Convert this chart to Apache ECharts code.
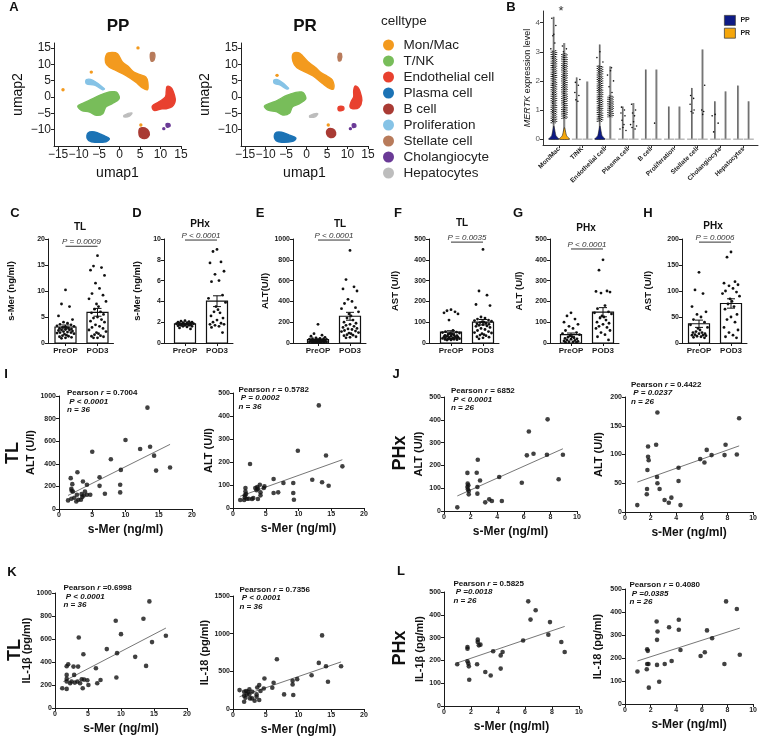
<!DOCTYPE html>
<html>
<head>
<meta charset="utf-8">
<title>s-Mer / MERTK panels</title>
<script src="https://cdn.jsdelivr.net/npm/echarts@6/dist/echarts.min.js"></script>
<style>
  html, body { margin: 0; padding: 0; background: #fff; }
  #main { width: 760px; height: 739px; }
</style>
</head>
<body>
<div id="main"></div>
<script>
const FONT = 'Arial, "Liberation Sans", Helvetica, sans-serif';

// ---------- A: umap ----------
const cellTypes = ['Mon/Mac', 'T/NK', 'Endothelial cell', 'Plasma cell', 'B cell', 'Proliferation', 'Stellate cell', 'Cholangiocyte', 'Hepatocytes'];
const cellColors = ['#f39a1e', '#78bd5a', '#e8412f', '#1c73b5', '#a93b34', '#86c3e6', '#b87b5b', '#6a3a96', '#bdbdbd'];

// cluster outlines in umap coords, one list per cell type (single point = stray cell)
const umapPP = [
  [[[-3.1, 13.2], [-1.8, 13.6], [-0.5, 13.2], [0.7, 10.7], [2.2, 9.2], [3.5, 7.6], [5.0, 6.8], [6.4, 6.1], [6.9, 4.5], [6.8, 2.2], [5.6, 2.8], [3.9, 4.6], [1.5, 6.6], [-0.9, 8.1], [-2.5, 9.1], [-3.4, 10.5]],
   [[4.5, 15]], [[-6.9, 7.6]], [[-13.8, 2.2]], [[5.2, -8.6]]],
  [[[-10.2, -2.8], [-9, -2.0], [-7.3, -1], [-4.9, 0.5], [-2.5, 1.5], [-1.2, 1.6], [-0.5, 1.2], [-0.1, -0.5], [-1.7, -2], [-3.3, -3], [-4.1, -5.1], [-5.7, -5.6], [-7.3, -4.6], [-9.3, -4.1]]],
  [[[11.6, 3.2], [12.4, 3.0], [13.0, 2.0], [13.6, -1], [12.8, -3], [11.2, -3.6], [10.4, -3.6], [8.4, -4.1], [8.0, -2.8], [9.6, -1.5], [11.2, 0], [11.4, 1.8]]],
  [[[-7.7, -11], [-6.1, -10.7], [-4.1, -11.7], [-2.5, -12.7], [-3.3, -13.7], [-6.9, -13.7], [-7.9, -12.7]]],
  [[[4.9, -9.7], [6.2, -9.5], [7.2, -10.7], [7.0, -12.2], [6.0, -12.7], [4.9, -12.0]]],
  [[[-8.1, 5.3], [-6.5, 5.1], [-3.7, 2.5], [-4.1, 2.2], [-6.1, 3.6], [-8.1, 4.1]]],
  [[[7.6, 13.4], [8.5, 13.4], [8.4, 11.2], [7.7, 11]]],
  [[[11.4, -8.2], [12.2, -8.2], [12.3, -9.0], [11.5, -9.2]], [[10.8, -9.7]]],
  [[[1.1, -5.6], [3.0, -4.9], [2.4, -5.9], [1.1, -6.1]]]
];
const umapPR = [
  [[[-3.3, 13.2], [-2.0, 13.5], [-1.0, 12.6], [0.6, 10.5], [2.2, 9.0], [3.6, 7.4], [5.0, 6.4], [6.3, 5.2], [6.6, 2.5], [5.6, 2.6], [3.8, 4.2], [1.6, 6.4], [-0.8, 7.9], [-2.4, 9.0], [-3.3, 10.8]],
   [[-7.2, 6.6]], [[5.3, -8.6]]],
  [[[-10.3, -2.8], [-9, -2.0], [-7.2, -1.1], [-5.0, 0.4], [-2.6, 1.4], [-1.2, 1.5], [-0.6, 1.0], [-0.2, -0.6], [-1.8, -2.1], [-3.4, -3], [-4.2, -5.0], [-5.8, -5.5], [-7.4, -4.5], [-9.4, -4.0]]],
  [[[11.8, 3.3], [12.5, 3.0], [13.0, 1.8], [13.5, -1], [12.8, -3.2], [11.3, -3.6], [10.6, -3.0], [10.9, -1.4], [11.5, 0], [11.5, 1.8]],
   [[7.8, -3.0], [9.0, -3.0], [9.0, -4.0], [7.8, -4.1]]],
  [[[-7.6, -11], [-6.1, -10.8], [-4.2, -11.7], [-2.6, -12.6], [-3.4, -13.6], [-6.8, -13.7], [-7.8, -12.6]]],
  [[[5.1, -10.0], [6.4, -9.8], [7.1, -10.9], [6.8, -12.1], [5.8, -12.4], [5.0, -11.6]]],
  [[[-7.9, 5.2], [-6.6, 5.0], [-4.4, 2.7], [-4.8, 2.4], [-6.4, 3.6], [-7.9, 4.2]]],
  [[[7.8, 13.2], [8.5, 13.2], [8.4, 11.2], [7.8, 11.1]]],
  [[[11.2, -8.3], [11.9, -8.3], [12.0, -9.1], [11.3, -9.3]], [[10.7, -9.7]]],
  [[[0.8, -5.7], [2.7, -5.1], [2.2, -6.0], [0.8, -6.2]]]
];

// ---------- B: MERTK violins ----------
const violinCats = ['Mon/Mac', 'T/NK', 'Endothelial cell', 'Plasma cell', 'B cell', 'Proliferation', 'Stellate cell', 'Cholangiocyte', 'Hepatocytes'];
const vioMaxPP = [4.2, 2.12, 3.25, 1.12, 2.39, 1.12, 1.76, 1.3, 1.84];
const vioMaxPR = [3.3, 1.98, 2.5, 1.24, 2.39, 1.12, 3.08, 1.64, 1.3];
const vioBulbPP = [0.45, 0, 0.45, 0, 0, 0, 0, 0, 0];
const vioBulbPR = [0.4, 0, 0, 0, 0, 0, 0, 0, 0];
// dense point clouds [low, high], 0 = none
const vioBandPP = [[0.55, 3.05], [0, 0], [0.6, 2.55], [0, 0], [0, 0], [0, 0], [0, 0], [0, 0], [0, 0]];
const vioBandPR = [[0.7, 2.95], [0, 0], [0.75, 1.5], [0, 0], [0, 0], [0, 0], [0, 0], [0, 0], [0, 0]];
// sparse cells [category, level]
const vioPtsPP = [[0, 4.15], [0, 3.9], [0, 3.55], [0, 3.3], [0, 3.6], [0, 3.1],
  [1, 2.05], [1, 1.95], [1, 1.85], [1, 1.6], [1, 1.5], [1, 1.35], [1, 1.3],
  [2, 3.0], [2, 2.8], [2, 2.65],
  [3, 1.1], [3, 1.0], [3, 0.9], [3, 0.8], [3, 0.65], [3, 0.5], [3, 0.4], [3, 0.35], [3, 0.3],
  [6, 1.5], [6, 1.4], [6, 1.2], [6, 1.0], [6, 0.95], [6, 0.9],
  [7, 0.85], [7, 0.8], [7, 0.55], [7, 0.25]];
const vioPtsPR = [[0, 3.2], [0, 3.1], [0, 3.0],
  [2, 2.45], [2, 2.35], [2, 2.2], [2, 2.0], [2, 1.8], [2, 1.6],
  [3, 1.2], [3, 1.0], [3, 0.9], [3, 0.8], [3, 0.6], [3, 0.5], [3, 0.45], [3, 0.4], [3, 0.35],
  [4, 0.55],
  [6, 1.85], [6, 1.0], [6, 0.95], [6, 0.85]];

// ---------- C-H: PreOP vs POD3 ----------
const groupLabels = ['PreOP', 'POD3'];
const cPre = [10.2, 7.5, 7.0, 5.2, 4.5, 4.0, 3.8, 3.6, 3.5, 3.3, 3.2, 3.1, 3.0, 3.0, 2.9, 2.8, 2.7, 2.6, 2.5, 2.5, 2.4, 2.3, 2.2, 2.1, 2.0, 2.0, 1.9, 1.8, 1.7, 1.5, 1.4, 1.3, 1.2, 1.1, 1.0, 0.9];
const cPost = [16.8, 14.8, 14.5, 14.0, 13.0, 11.5, 10.5, 9.5, 9.2, 8.5, 8.0, 7.5, 7.0, 6.5, 6.0, 5.8, 5.5, 5.0, 4.8, 4.5, 4.2, 4.0, 3.5, 3.2, 3.0, 2.8, 2.5, 2.2, 2.0, 1.8, 1.6, 1.4, 1.3, 1.2, 1.0, 1.0];
const cMean = [3.08, 5.9];
const cSem = [0.38, 0.75];
const dPre = [2.15, 2.1, 2.05, 2.0, 2.0, 1.95, 1.95, 1.9, 1.9, 1.85, 1.85, 1.85, 1.8, 1.8, 1.8, 1.75, 1.75, 1.7, 1.7, 1.7, 1.65, 1.6, 1.6, 1.55, 1.45, 1.35];
const dPost = [9.0, 8.8, 7.8, 7.7, 6.9, 6.6, 6.0, 5.9, 4.6, 4.3, 3.9, 3.5, 3.2, 3.0, 2.9, 2.6, 2.4, 2.2, 2.0, 1.9, 1.8, 1.8, 1.7, 1.6, 1.5, 1.0];
const dMean = [1.84, 4.02];
const dSem = [0.04, 0.52];
const ePre = [180, 90, 75, 65, 55, 50, 45, 42, 40, 38, 35, 32, 30, 28, 26, 25, 24, 22, 20, 19, 18, 17, 16, 15, 14, 13, 12, 11, 10, 10, 9, 8, 7, 6, 5, 4];
const ePost = [890, 610, 540, 520, 500, 420, 400, 380, 340, 330, 300, 280, 260, 240, 220, 200, 190, 180, 170, 160, 150, 140, 135, 130, 120, 115, 110, 100, 95, 90, 80, 75, 70, 60, 55, 50];
const eMean = [32, 257];
const eSem = [6, 38];
const fPre = [160, 155, 150, 145, 140, 110, 60, 55, 52, 50, 48, 45, 42, 40, 38, 36, 35, 33, 32, 30, 30, 28, 27, 25, 24, 23, 22, 21, 20, 20, 19, 18, 17, 16, 15, 14];
const fPost = [450, 250, 230, 185, 180, 125, 120, 115, 110, 108, 105, 102, 100, 98, 95, 92, 90, 88, 85, 82, 80, 75, 70, 65, 60, 55, 50, 48, 45, 40, 38, 35, 30, 28, 25, 20];
const fMean = [52, 100];
const fSem = [7, 13];
const gPre = [145, 130, 115, 100, 90, 80, 70, 60, 50, 45, 40, 35, 30, 28, 25, 22, 20, 18, 15, 12, 10, 8, 6, 5, 4, 3];
const gPost = [400, 350, 250, 248, 245, 240, 180, 165, 150, 145, 140, 130, 125, 120, 110, 100, 95, 90, 80, 75, 70, 60, 50, 40, 30, 15];
const gMean = [40, 148];
const gSem = [8, 22];
const hPre = [136, 102, 95, 70, 60, 55, 50, 45, 40, 35, 30, 28, 25, 22, 20, 20, 18, 18, 16, 15, 15, 14, 13, 12, 11, 10];
const hPost = [175, 165, 118, 115, 112, 110, 105, 100, 98, 95, 90, 85, 80, 75, 70, 65, 55, 50, 45, 40, 30, 25, 20, 15, 12, 10];
const hMean = [37, 76];
const hSem = [7, 9];

// ---------- I-L: correlations [s-Mer, value] ----------
const iLeftPts = [[1.36, 76], [1.76, 273], [1.86, 179], [1.9, 161], [2.0, 220], [2.1, 155], [1.86, 91], [2.77, 325], [2.7, 126], [2.6, 67], [2.9, 82], [3.3, 82], [3.6, 243], [3.9, 155], [3.5, 106], [4.2, 214], [4.2, 126], [4.7, 126], [5.0, 507], [6.1, 281], [6.1, 205], [6.9, 135], [7.8, 440], [9.2, 214], [9.2, 147], [9.3, 346], [10.0, 610], [12.2, 531], [13.3, 897], [13.7, 551], [14.3, 472], [14.6, 340], [16.7, 367], [3.7, 120], [3.4, 132], [2.3, 100]];
const iLeftFit = [[1.36, 120], [16.7, 572]];
const iRightPts = [[1.1, 35], [1.7, 35], [2.4, 40], [2.9, 39], [3.8, 39], [9.3, 36], [1.8, 55], [1.9, 72], [1.9, 87], [1.8, 46], [2.6, 191], [3.4, 87], [3.6, 77], [3.7, 91], [4.1, 101], [4.2, 68], [4.2, 55], [4.8, 94], [6.2, 126], [6.2, 65], [6.9, 68], [7.7, 109], [9.2, 109], [9.2, 65], [9.9, 249], [12.1, 123], [13.1, 446], [13.6, 112], [14.2, 228], [14.6, 97], [16.7, 181], [2.1, 40], [3.1, 43], [3.8, 84], [2.0, 61], [4.7, 87]];
const iRightFit = [[1.1, 51], [16.7, 210]];
const jLeftPts = [[1.0, 16], [1.76, 167], [1.76, 105], [1.83, 113], [1.8, 95], [1.86, 88], [1.86, 73], [2.46, 168], [2.54, 225], [2.51, 105], [2.51, 76], [2.71, 134], [3.1, 38], [3.4, 51], [3.6, 44], [4.15, 149], [4.35, 44], [5.85, 124], [6.23, 244], [6.38, 349], [6.73, 251], [7.74, 247], [7.79, 402], [8.62, 139], [8.94, 247], [1.78, 120]];
const jLeftFit = [[1.0, 66], [8.94, 273]];
const jRightPts = [[0.96, 12], [1.72, 40], [1.7, 31], [1.75, 73], [1.8, 96], [1.85, 90], [1.8, 114], [2.43, 117], [2.53, 173], [2.5, 61], [2.53, 50], [2.7, 40], [3.09, 21], [3.42, 16], [3.62, 25], [4.18, 77], [4.18, 54], [4.33, 12], [5.87, 92], [6.2, 86], [6.38, 108], [6.76, 99], [7.77, 99], [7.85, 117], [8.73, 100], [8.91, 163]];
const jRightFit = [[0.96, 52], [8.91, 115]];
const kLeftPts = [[1.1, 172], [1.77, 166], [1.77, 288], [1.77, 253], [1.77, 230], [1.77, 363], [2.0, 381], [2.5, 230], [2.8, 360], [2.9, 288], [3.0, 221], [3.5, 360], [3.6, 613], [4.05, 250], [4.2, 172], [4.3, 468], [4.4, 247], [4.9, 241], [5.06, 200], [6.2, 346], [6.4, 215], [6.9, 244], [7.85, 512], [9.2, 759], [9.3, 265], [9.4, 477], [10.0, 642], [12.15, 445], [13.4, 776], [13.8, 366], [14.3, 927], [14.7, 573], [16.8, 628], [2.3, 215], [3.4, 230], [3.8, 215]];
const kLeftFit = [[1.27, 230], [16.8, 695]];
const kRightPts = [[1.0, 251], [1.7, 229], [1.7, 176], [1.7, 97], [2.0, 238], [1.9, 150], [2.1, 194], [2.5, 260], [2.5, 194], [2.6, 141], [2.95, 229], [2.9, 141], [3.3, 110], [3.6, 163], [3.6, 194], [3.7, 286], [4.0, 317], [4.2, 238], [4.0, 119], [4.7, 273], [4.8, 405], [6.0, 282], [6.2, 348], [6.7, 660], [7.8, 194], [9.1, 326], [9.1, 374], [9.2, 185], [9.8, 396], [12.0, 449], [13.1, 612], [13.6, 977], [14.2, 568], [14.5, 361], [16.5, 568], [2.3, 229]];
const kRightFit = [[1.0, 163], [16.5, 625]];
const lLeftPts = [[0.98, 183], [1.74, 259], [1.74, 251], [1.74, 196], [1.8, 186], [1.84, 174], [1.87, 115], [2.5, 291], [2.5, 281], [2.58, 266], [2.7, 269], [2.45, 183], [3.06, 149], [3.46, 134], [3.64, 240], [4.2, 222], [4.2, 164], [4.34, 237], [5.86, 287], [6.24, 459], [6.41, 379], [6.79, 420], [7.73, 313], [7.85, 368], [8.69, 281], [8.94, 237]];
const lLeftFit = [[0.98, 189], [8.94, 349]];
const lRightPts = [[0.97, 141], [1.7, 151], [1.73, 238], [1.78, 231], [1.83, 174], [1.73, 174], [1.86, 71], [2.47, 359], [2.54, 315], [2.5, 279], [2.5, 170], [2.67, 97], [3.1, 174], [3.44, 334], [3.64, 187], [4.2, 366], [4.2, 323], [4.33, 235], [5.9, 209], [6.23, 225], [6.4, 320], [6.8, 286], [7.76, 174], [7.89, 446], [8.73, 413], [8.96, 214]];
const lRightFit = [[0.97, 187], [8.96, 330]];

// ------------------------------------------------------------
const grids = [], xAxes = [], yAxes = [], series = [], graphics = [];

function addGrid(box, xa, ya) {
  const gi = grids.length;
  grids.push({ left: box[0], top: box[1], width: box[2], height: box[3] });
  xAxes.push(Object.assign({ gridIndex: gi }, xa));
  yAxes.push(Object.assign({ gridIndex: gi }, ya));
  return gi;
}

function axis(o) {
  const a = {
    type: 'value', min: o.min, max: o.max,
    axisLine: { show: true, onZero: false, lineStyle: { color: o.lineColor || '#1a1a1a', width: 1 } },
    axisTick: { show: true, length: o.tick || 3, lineStyle: { color: o.lineColor || '#1a1a1a', width: 1 } },
    axisLabel: { fontSize: o.fs || 7, fontWeight: o.bold === false ? 'normal' : 'bold', color: o.labelColor || '#1a1a1a', margin: o.margin || 3, fontFamily: FONT,
      formatter: o.fmt || (v => String(v)) },
    splitLine: { show: false },
    name: o.name || '', nameLocation: 'middle', nameGap: o.gap || 15,
    nameTextStyle: { fontSize: o.nameFs || 11, fontWeight: o.nameBold === false ? 'normal' : 'bold', color: '#111', fontFamily: FONT }
  };
  if (o.interval) a.interval = o.interval;
  if (o.ticks) {
    a.axisTick.customValues = o.ticks;
    a.axisLabel.customValues = o.ticks;
  }
  if (o.rotate) a.axisLabel.rotate = o.rotate;
  if (o.rich) a.nameTextStyle.rich = o.rich;
  return a;
}

function text(x, y, str, style, rot) {
  graphics.push({
    type: 'text', x: x, y: y, rotation: rot || 0, silent: true,
    style: Object.assign({ text: str, fontFamily: FONT, fill: '#111', align: 'center', verticalAlign: 'middle' }, style)
  });
}

// ---------- A ----------
const minus = v => String(v).replace('-', '\u2212');
const umapBoxes = [[54, 43, 127, 103], [241, 43, 127, 103]];
[umapPP, umapPR].forEach((outlines, k) => {
  const gi = addGrid(umapBoxes[k],
    axis({ min: -16, max: 15, ticks: [-15, -10, -5, 0, 5, 10, 15], fmt: minus, fs: 12, bold: false, labelColor: '#222', lineColor: '#222', name: 'umap1', gap: 20, nameFs: 14, nameBold: false }),
    axis({ min: -15, max: 16.5, ticks: [-10, -5, 0, 5, 10, 15], fmt: minus, fs: 12, bold: false, labelColor: '#222', lineColor: '#222', name: 'umap2', gap: 29, nameFs: 14, nameBold: false }));
  cellTypes.forEach((name, ci) => {
    const polys = outlines[ci];
    const col = cellColors[ci];
    series.push({
      type: 'custom', name: name, xAxisIndex: gi, yAxisIndex: gi, silent: true,
      itemStyle: { color: col },
      encode: { x: 0, y: 1 },
      data: polys.map((p, pi) => [p[0][0], p[0][1], pi]),
      renderItem: (params, api) => {
        const p = polys[api.value(2)];
        if (p.length === 1) {
          const c = api.coord(p[0]);
          return { type: 'circle', shape: { cx: c[0], cy: c[1], r: 1.7 }, style: { fill: col } };
        }
        return {
          type: 'polygon',
          shape: { points: p.map(q => api.coord(q)), smooth: 0.35 },
          style: { fill: col, stroke: col, lineWidth: 1.4, lineJoin: 'round' }
        };
      }
    });
  });
});
text(118, 26, 'PP', { fontSize: 17, fontWeight: 'bold' });
text(305, 26, 'PR', { fontSize: 17, fontWeight: 'bold' });
text(381, 21, 'celltype', { fontSize: 13.5, align: 'left', fill: '#222' });

// ---------- B ----------
const gB = addGrid([543, 11, 215, 134],
  axis({ min: -0.7, max: 8.63, ticks: [0, 1, 2, 3, 4, 5, 6, 7, 8], fmt: v => violinCats[v], rotate: 45, fs: 6.5, margin: 3, labelColor: '#222', lineColor: '#333' }),
  axis({ min: -0.2, max: 4.4, ticks: [0, 1, 2, 3, 4], fs: 8, bold: false, labelColor: '#555', lineColor: '#333',
    name: '{i|MERTK} expression level', gap: 11, nameFs: 9, nameBold: false,
    rich: { i: { fontStyle: 'italic', fontSize: 9, fontFamily: FONT, color: '#111' } } }));

const violinSides = [
  { name: 'PP', color: '#0d1a85', max: vioMaxPP, bulb: vioBulbPP, band: vioBandPP, pts: vioPtsPP, off: -5.3 },
  { name: 'PR', color: '#f5a60a', max: vioMaxPR, bulb: vioBulbPR, band: vioBandPR, pts: vioPtsPR, off: 5.3 }
];
const speckle = [[-2.6, [0.9, 1.3], 0], [-1.2, [1.1, 0.7], 0.6], [0.2, [0.8, 1.2], 1.1], [1.6, [1.0, 0.9], 0.3], [2.8, [0.7, 1.6], 0.9]];
violinSides.forEach(side => {
  series.push({
    type: 'custom', name: side.name, xAxisIndex: gB, yAxisIndex: gB, silent: true,
    itemStyle: { color: side.color },
    encode: { x: 0, y: 1 },
    data: violinCats.map((c, i) => [i, side.max[i], side.bulb[i], side.band[i][0], side.band[i][1]]),
    renderItem: (params, api) => {
      const base = api.coord([api.value(0), 0]);
      const x = base[0] + side.off;
      const top = api.coord([api.value(0), api.value(1)])[1];
      const kids = [
        { type: 'line', shape: { x1: x, y1: base[1], x2: x, y2: top }, style: { stroke: '#9a9a9a', lineWidth: 1.8 } },
        { type: 'line', shape: { x1: x - 0.6, y1: base[1], x2: x - 0.6, y2: top }, style: { stroke: '#222', lineWidth: 0.5 } },
        { type: 'line', shape: { x1: x - 5, y1: base[1], x2: x + 5, y2: base[1] }, style: { stroke: '#aaa', lineWidth: 1.2 } }
      ];
      if (api.value(4) > 0) {
        const lo = api.coord([0, api.value(3)])[1], hi = api.coord([0, api.value(4)])[1];
        speckle.forEach(s => {
          kids.push({
            type: 'line', shape: { x1: x + s[0], y1: lo, x2: x + s[0], y2: hi },
            style: { stroke: '#111', lineWidth: 1.3, lineDash: s[1], lineDashOffset: s[2] }
          });
        });
      }
      if (api.value(2) > 0) {
        const apex = api.coord([0, api.value(2)])[1];
        kids.push({
          type: 'polygon',
          shape: { points: [[x - 5.2, base[1]], [x - 2.2, base[1] - 3.5], [x, apex], [x + 2.2, base[1] - 3.5], [x + 5.2, base[1]]], smooth: 0.2 },
          style: { fill: side.color, stroke: '#222', lineWidth: 0.6 }
        });
      }
      return { type: 'group', children: kids };
    }
  });
  const jit = [-2, 2, -1, 1, 0, -3, 3, -1.5, 1.5];
  series.push({
    type: 'custom', name: side.name + ' cells', xAxisIndex: gB, yAxisIndex: gB, silent: true, z: 3,
    encode: { x: 0, y: 1 },
    data: side.pts.map((p, i) => [p[0], p[1], i]),
    renderItem: (params, api) => {
      const c = api.coord([api.value(0), api.value(1)]);
      return { type: 'circle', shape: { cx: c[0] + side.off + jit[api.value(2) % jit.length], cy: c[1], r: 0.8 }, style: { fill: '#111' } };
    }
  });
});
text(561, 11, '*', { fontSize: 13, fill: '#333' });

// ---------- C-H ----------
const barPanels = [
  { letter: 'C', title: 'TL', yName: 's-Mer (ng/ml)', pre: cPre, post: cPost, mean: cMean, sem: cSem, yMax: 20, yStep: 5, p: 'P = 0.0009', pY: 18.6, axisX: 48, c0: 65.5, gap: 32, letterX: 15, titleXY: [80, 227] },
  { letter: 'D', title: 'PHx', yName: 's-Mer (ng/ml)', pre: dPre, post: dPost, mean: dMean, sem: dSem, yMax: 10, yStep: 2, p: 'P < 0.0001', pY: 9.9, axisX: 164, c0: 185, gap: 22, letterX: 137, titleXY: [200, 224] },
  { letter: 'E', title: 'TL', yName: 'ALT(U/l)', pre: ePre, post: ePost, mean: eMean, sem: eSem, yMax: 1000, yStep: 200, p: 'P < 0.0001', pY: 990, axisX: 293, c0: 318, gap: 23, letterX: 260, titleXY: [340, 224] },
  { letter: 'F', title: 'TL', yName: 'AST (U/l)', pre: fPre, post: fPost, mean: fMean, sem: fSem, yMax: 500, yStep: 100, p: 'P = 0.0035', pY: 485, axisX: 429, c0: 451, gap: 29, letterX: 398, titleXY: [462, 223] },
  { letter: 'G', title: 'PHx', yName: 'ALT (U/l)', pre: gPre, post: gPost, mean: gMean, sem: gSem, yMax: 500, yStep: 100, p: 'P < 0.0001', pY: 452, axisX: 550, c0: 571, gap: 26, letterX: 518, titleXY: [586, 228] },
  { letter: 'H', title: 'PHx', yName: 'AST (U/l)', pre: hPre, post: hPost, mean: hMean, sem: hSem, yMax: 200, yStep: 50, p: 'P = 0.0006', pY: 194, axisX: 682, c0: 699, gap: 29, letterX: 648, titleXY: [713, 226] }
];
const SPACING = 32;
const dotJit = [0, -4, 4, -7, 7, -2, 2, -5.5, 5.5, -8.5, 8.5, -1, 1, -3, 3, -6, 6];

barPanels.forEach(bp => {
  const xMin = (bp.axisX - bp.c0) / SPACING;
  const gi = addGrid([bp.axisX, 239, (1.5 - xMin) * SPACING, 104],
    axis({ min: xMin, max: 1.5, ticks: [0, 1], fmt: v => groupLabels[v], fs: 8, margin: 4 }),
    axis({ min: 0, max: bp.yMax, interval: bp.yStep, fs: 7, name: bp.yName, gap: bp.gap, nameFs: 9.5 }));

  series.push({
    type: 'custom', xAxisIndex: gi, yAxisIndex: gi, silent: true, z: 2,
    encode: { x: 0, y: 1 },
    data: bp.mean.map((m, i) => [i, m, bp.sem[i]]),
    renderItem: (params, api) => {
      const i = api.value(0), m = api.value(1);
      const base = api.coord([i, 0]), top = api.coord([i, m]);
      return {
        type: 'rect', shape: { x: base[0] - 10.5, y: top[1], width: 21, height: base[1] - top[1] },
        style: { fill: '#fff', stroke: '#111', lineWidth: 1.2 }
      };
    }
  });
  series.push({
    type: 'custom', xAxisIndex: gi, yAxisIndex: gi, silent: true, z: 3,
    encode: { x: 0, y: 1 },
    data: bp.pre.map((v, i) => [0, v, i]).concat(bp.post.map((v, i) => [1, v, i])),
    renderItem: (params, api) => {
      const c = api.coord([api.value(0), api.value(1)]);
      return { type: 'circle', shape: { cx: c[0] + dotJit[api.value(2) % dotJit.length], cy: c[1], r: 1.4 }, style: { fill: '#111' } };
    }
  });
  series.push({
    type: 'custom', xAxisIndex: gi, yAxisIndex: gi, silent: true, z: 4,
    encode: { x: 0, y: 1 },
    data: bp.mean.map((m, i) => [i, m, bp.sem[i]]),
    renderItem: (params, api) => {
      const i = api.value(0), m = api.value(1), s = api.value(2);
      const hi = api.coord([i, m + s]), lo = api.coord([i, m - s]);
      const st = { stroke: '#111', lineWidth: 1 };
      return {
        type: 'group', children: [
          { type: 'line', shape: { x1: hi[0], y1: hi[1], x2: lo[0], y2: lo[1] }, style: st },
          { type: 'line', shape: { x1: hi[0] - 4, y1: hi[1], x2: hi[0] + 4, y2: hi[1] }, style: st },
          { type: 'line', shape: { x1: lo[0] - 4, y1: lo[1], x2: lo[0] + 4, y2: lo[1] }, style: st }
        ]
      };
    }
  });
  series.push({
    type: 'custom', xAxisIndex: gi, yAxisIndex: gi, silent: true, z: 5,
    encode: { x: 0, y: 1 },
    data: [[0, bp.pY]],
    renderItem: (params, api) => {
      const a = api.coord([0, api.value(1)]), b = api.coord([1, api.value(1)]);
      return {
        type: 'group', children: [
          { type: 'line', shape: { x1: a[0], y1: a[1], x2: b[0], y2: b[1] }, style: { stroke: '#333', lineWidth: 1 } },
          { type: 'text', x: (a[0] + b[0]) / 2, y: a[1] - 0.5, style: { text: bp.p, align: 'center', verticalAlign: 'bottom', fontSize: 8, fontStyle: 'italic', fill: '#333', fontFamily: FONT } }
        ]
      };
    }
  });
  text(bp.letterX, 213, bp.letter, { fontSize: 13, fontWeight: 'bold' });
  text(bp.titleXY[0], bp.titleXY[1], bp.title, { fontSize: 10, fontWeight: 'bold' });
});

// ---------- I-L ----------
const scatterPanels = [
  { pts: iLeftPts, fit: iLeftFit, box: [59, 396, 133, 113], xMax: 20, xStep: 5, yMax: 1000, yStep: 200, yName: 'ALT (U/l)', gap: 19.5, stat: ['Pearson {i|r} = 0.7004', ' P < 0.0001', 'n = 36'], statXY: [67, 393] },
  { pts: iRightPts, fit: iRightFit, box: [233, 393, 131, 115], xMax: 20, xStep: 5, yMax: 500, yStep: 100, yName: 'ALT (U/l)', gap: 10.5, stat: ['Pearson {i|r} = 0.5782', ' P = 0.0002', 'n = 36'], statXY: [238.5, 389.5] },
  { pts: jLeftPts, fit: jLeftFit, box: [444, 397, 133, 114], xMax: 10, xStep: 2, yMax: 500, yStep: 100, yName: 'ALT (U/l)', gap: 19.5, stat: ['Pearson {i|r} = 6852', ' P < 0.0001', 'n = 26'], statXY: [451, 391] },
  { pts: jRightPts, fit: jRightFit, box: [625, 397, 132, 115], xMax: 10, xStep: 2, yMax: 200, yStep: 50, yName: 'ALT (U/l)', gap: 20.5, stat: ['Pearson {i|r} = 0.4422', ' P = 0.0237', 'n = 26'], statXY: [631, 384.5] },
  { pts: kLeftPts, fit: kLeftFit, box: [55, 593, 132, 115], xMax: 20, xStep: 5, yMax: 1000, yStep: 200, yName: 'IL-1\u03b2 (pg/ml)', gap: 20, stat: ['Pearson {i|r} =0.6998', ' P < 0.0001', 'n = 36'], statXY: [63.5, 588] },
  { pts: kRightPts, fit: kRightFit, box: [233, 596, 131, 113], xMax: 20, xStep: 5, yMax: 1500, yStep: 500, yName: 'IL-18 (pg/ml)', gap: 19.5, stat: ['Pearson {i|r} = 0.7356', ' P < 0.0001', 'n = 36'], statXY: [239.5, 589.5] },
  { pts: lLeftPts, fit: lLeftFit, box: [444, 592, 135, 114], xMax: 10, xStep: 2, yMax: 500, yStep: 100, yName: 'IL-1\u03b2 (pg/ml)', gap: 14.5, stat: ['Pearson {i|r} = 0.5825', ' P =0.0018', 'n = 26'], statXY: [453.5, 583.5] },
  { pts: lRightPts, fit: lRightFit, box: [625, 589, 131, 115], xMax: 10, xStep: 2, yMax: 500, yStep: 100, yName: 'IL-18 (pg/ml)', gap: 21.5, stat: ['Pearson {i|r} = 0.4080', ' P =0.0385', 'n = 26'], statXY: [629.5, 585] }
];

scatterPanels.forEach(sp => {
  const gi = addGrid(sp.box,
    axis({ min: 0, max: sp.xMax, interval: sp.xStep, fs: 7, name: 's-Mer (ng/ml)', gap: 15, nameFs: 12 }),
    axis({ min: 0, max: sp.yMax, interval: sp.yStep, fs: 7, name: sp.yName, gap: sp.gap, nameFs: 11 }));
  series.push({
    type: 'line', xAxisIndex: gi, yAxisIndex: gi, silent: true, symbol: 'none', z: 2,
    data: sp.fit, lineStyle: { color: '#666', width: 0.9 }
  });
  series.push({
    type: 'scatter', xAxisIndex: gi, yAxisIndex: gi, silent: true, z: 3,
    symbolSize: 4.6, itemStyle: { color: '#111' }, data: sp.pts
  });
  const rich = { i: { fontStyle: 'italic', fontWeight: 'bold', fontSize: 8, fontFamily: FONT, fill: '#111' } };
  sp.stat.forEach((line, li) => {
    graphics.push({
      type: 'text', x: sp.statXY[0], y: sp.statXY[1] + li * 8.6, silent: true,
      style: {
        text: line, fontFamily: FONT, fontSize: 8, fontWeight: 'bold', fontStyle: li === 0 ? 'normal' : 'italic',
        fill: '#111', align: 'left', verticalAlign: 'middle', rich: rich
      }
    });
  });
});

// panel letters and row labels
text(14, 7, 'A', { fontSize: 13, fontWeight: 'bold' });
text(511, 7, 'B', { fontSize: 13, fontWeight: 'bold' });
text(6, 374, 'I', { fontSize: 13, fontWeight: 'bold' });
text(396, 374, 'J', { fontSize: 13, fontWeight: 'bold' });
text(12, 572, 'K', { fontSize: 13, fontWeight: 'bold' });
text(401, 571, 'L', { fontSize: 13, fontWeight: 'bold' });
text(13, 453, 'TL', { fontSize: 18, fontWeight: 'bold' }, Math.PI / 2);
text(400, 453, 'PHx', { fontSize: 18, fontWeight: 'bold' }, Math.PI / 2);
text(15, 650, 'TL', { fontSize: 18, fontWeight: 'bold' }, Math.PI / 2);
text(400, 648, 'PHx', { fontSize: 18, fontWeight: 'bold' }, Math.PI / 2);

const chart = echarts.init(document.getElementById('main'), null, { renderer: 'canvas' });
chart.setOption({
  animation: false,
  backgroundColor: '#fff',
  textStyle: { fontFamily: FONT },
  legend: [{
    data: cellTypes, orient: 'vertical', left: 378, top: 33, icon: 'circle',
    itemWidth: 20, itemHeight: 11, itemGap: 2.0, selectedMode: false,
    textStyle: { fontSize: 13.5, color: '#222', fontFamily: FONT, lineHeight: 14 }
  }, {
    data: ['PP', 'PR'], orient: 'vertical', left: 719, top: 10, icon: 'rect',
    itemWidth: 11, itemHeight: 10, itemGap: 2, selectedMode: false,
    itemStyle: { borderColor: '#444', borderWidth: 0.8 },
    textStyle: { fontSize: 7, fontWeight: 'bold', color: '#222', fontFamily: FONT }
  }],
  grid: grids,
  xAxis: xAxes,
  yAxis: yAxes,
  series: series,
  graphic: graphics
});
</script>
</body>
</html>
